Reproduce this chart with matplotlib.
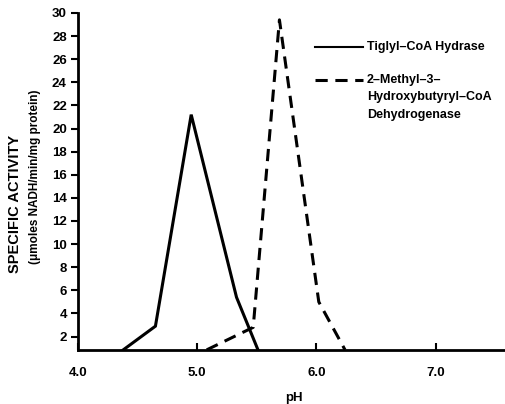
import matplotlib
matplotlib.use("Agg")
import matplotlib.pyplot as plt

plt.rcParams['font.family'] = ['Liberation Sans', 'DejaVu Sans']
plt.rcParams['font.weight'] = 'bold'

# Tiglyl-CoA Hydrase
ph_hyd = [4.38, 4.65, 4.95, 5.33, 5.51]
act_hyd = [0.85, 2.9, 21.2, 5.4, 0.85]

# 2-Methyl-3-Hydroxybutyryl-CoA Dehydrogenase
ph_deh = [5.08, 5.47, 5.69, 6.02, 6.24]
act_deh = [0.85, 2.8, 29.4, 5.0, 0.85]

yticks = list(range(2, 31, 2))
xticks = [4.0, 5.0, 6.0, 7.0]
xticklabels = ["4.0", "5.0", "6.0", "7.0"]

fig = plt.figure(figsize=(5.06, 4.04), dpi=100)
ax = fig.add_axes([0.154, 0.134, 0.846, 0.834])

ax.plot(ph_hyd, act_hyd, color='black', lw=2.2, solid_joinstyle='miter')
ax.plot(ph_deh, act_deh, color='black', lw=2.2, ls=(0, (4, 2.5)))

ax.set_xlim(4.0, 7.59)
ax.set_ylim(0.85, 30)
ax.spines['top'].set_visible(False)
ax.spines['right'].set_visible(False)
ax.spines['left'].set_linewidth(2)
ax.spines['bottom'].set_linewidth(2)

ax.set_yticks(yticks)
ax.set_yticklabels([str(v) for v in yticks])
ax.tick_params(axis='y', direction='out', length=5, width=1.5, labelsize=9.5, pad=3)
ax.set_xticks(xticks)
ax.set_xticklabels(xticklabels)
ax.tick_params(axis='x', direction='in', length=5, width=1.5, labelsize=9.5, pad=12)

ax.set_xlabel("pH", fontsize=9.5, fontweight='bold')
ax.xaxis.set_label_coords(0.505, -0.125)

fig.text(0.03, 0.495, "SPECIFIC ACTIVITY", rotation=90, ha='center', va='center',
         fontsize=10.5, fontweight='bold')
fig.text(0.069, 0.562, "(\u03bcmoles NADH/min/mg protein)", rotation=90, ha='center',
         va='center', fontsize=8.5, fontweight='bold')

# legend drawn by hand so the dashed sample sits on the first text line
tr = ax.transAxes
ax.plot([0.554, 0.665], [0.899, 0.899], transform=tr, color='black', lw=1.5)
ax.text(0.675, 0.899, "Tiglyl\u2013CoA Hydrase", transform=tr, va='center',
        fontsize=9, fontweight='bold')
ax.plot([0.554, 0.665], [0.801, 0.801], transform=tr, color='black', lw=2.2,
        ls=(0, (4, 2.5)))
ax.text(0.675, 0.801, "2\u2013Methyl\u20133\u2013", transform=tr, va='center',
        fontsize=9, fontweight='bold')
ax.text(0.675, 0.749, "Hydroxybutyryl\u2013CoA", transform=tr, va='center',
        fontsize=9, fontweight='bold')
ax.text(0.675, 0.697, "Dehydrogenase", transform=tr, va='center',
        fontsize=9, fontweight='bold')

fig.savefig("out.png", dpi=100)
